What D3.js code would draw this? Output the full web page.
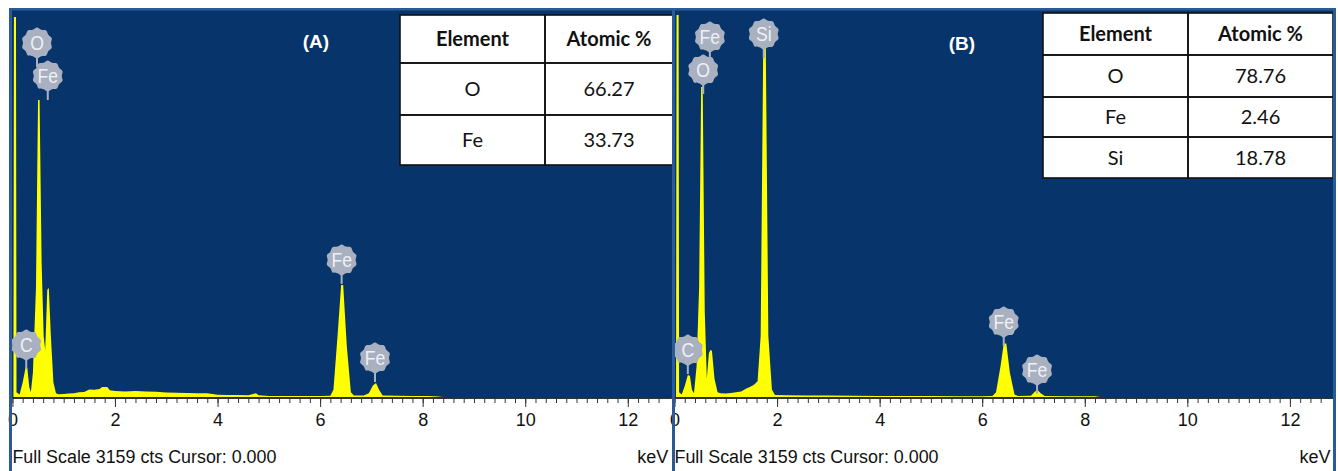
<!DOCTYPE html>
<html>
<head>
<meta charset="UTF-8">
<title>EDS spectra</title>
<script src="https://cdn.jsdelivr.net/npm/d3@7"></script>
<style>
    body { margin: 0; background: #fff; }
</style>
</head>
<body>
<div id="chart"></div>
<script>
    // keV ticks and vertical full scale
    const kevTicks = [0, 2, 4, 6, 8, 10, 12];
    const kevMax = 12.85;
    const fullScale = 3159;

    // spectrum A: [keV, counts]
    const spectrumA = [
        [0, 0], [0.02, 0], [0.03, 3118], [0.07, 3118], [0.08, 40], [0.14, 20], [0.2, 120], [0.26, 246], [0.29, 240],
        [0.33, 80], [0.36, 40], [0.4, 200], [0.46, 900], [0.5, 2437], [0.53, 2437], [0.57, 1100], [0.61, 500],
        [0.64, 385], [0.68, 880], [0.71, 894], [0.75, 500], [0.8, 120], [0.85, 30], [0.9, 22], [1.0, 25], [1.1, 28],
        [1.2, 30], [1.3, 40], [1.4, 42], [1.5, 62], [1.6, 60], [1.7, 66], [1.75, 82], [1.85, 82], [1.9, 55],
        [2.0, 50], [2.2, 46], [2.4, 50], [2.6, 45], [2.8, 44], [3.0, 36], [3.2, 34], [3.4, 32], [3.6, 30],
        [3.8, 30], [4.0, 18], [4.2, 16], [4.4, 16], [4.6, 14], [4.75, 30], [4.8, 14], [5.0, 8], [5.5, 8],
        [6.0, 8], [6.2, 10], [6.26, 60], [6.34, 500], [6.41, 919], [6.45, 919], [6.52, 420], [6.6, 40],
        [6.66, 12], [6.85, 12], [6.95, 30], [7.03, 95], [7.09, 115], [7.15, 60], [7.22, 12], [7.5, 10],
        [7.8, 8], [8.1, 8], [8.3, 4], [8.4, 0], [12.85, 0]
    ];

    // spectrum B
    const spectrumB = [
        [0, 0], [0.03, 0], [0.04, 3134], [0.08, 3134], [0.09, 40], [0.14, 20], [0.2, 90], [0.26, 180], [0.3, 175],
        [0.34, 60], [0.38, 30], [0.43, 250], [0.48, 900], [0.52, 2544], [0.55, 2544], [0.59, 700], [0.63, 150],
        [0.67, 360], [0.7, 386], [0.73, 380], [0.78, 150], [0.84, 40], [0.9, 30], [1.0, 28], [1.1, 32],
        [1.2, 38], [1.3, 45], [1.4, 70], [1.47, 82], [1.55, 100], [1.62, 130], [1.68, 500], [1.73, 2872],
        [1.78, 2872], [1.83, 500], [1.9, 60], [1.96, 16], [2.2, 14], [2.6, 12], [3.0, 12], [3.5, 10],
        [4.0, 8], [4.5, 8], [5.0, 8], [5.5, 6], [6.0, 6], [6.2, 8], [6.27, 40], [6.36, 260], [6.42, 440],
        [6.47, 440], [6.54, 200], [6.63, 20], [6.7, 8], [6.95, 10], [7.03, 45], [7.08, 57], [7.14, 30],
        [7.22, 8], [7.6, 6], [8.2, 6], [8.3, 0], [12.85, 0]
    ];

    // element badges: label, keV, height in counts
    const badgesA = [
        { el: "O", kev: 0.48, cts: 2905 },
        { el: "Fe", kev: 0.69, cts: 2634 },
        { el: "C", kev: 0.27, cts: 427 },
        { el: "Fe", kev: 6.42, cts: 1125 },
        { el: "Fe", kev: 7.07, cts: 320 }
    ];
    const badgesB = [
        { el: "Fe", kev: 0.69, cts: 2954 },
        { el: "O", kev: 0.56, cts: 2683 },
        { el: "Si", kev: 1.74, cts: 2978 },
        { el: "C", kev: 0.26, cts: 385 },
        { el: "Fe", kev: 6.42, cts: 615 },
        { el: "Fe", kev: 7.07, cts: 222 }
    ];

    // composition tables
    const tableHeader = ["Element", "Atomic %"];
    const elementsA = ["O", "Fe"];
    const atomicA = ["66.27", "33.73"];
    const elementsB = ["O", "Fe", "Si"];
    const atomicB = ["78.76", "2.46", "18.78"];

    const W = 1338, H = 471;
    const svg = d3.select("#chart").append("svg")
        .attr("width", W).attr("height", H)
        .style("font-family", "'Liberation Sans', Arial, sans-serif");

    const BG = "#07346b", EDGE = "#2a5b97", YEL = "#ffff00";

    // gear-ish badge outline
    const gear = d3.lineRadial().curve(d3.curveCardinalClosed)(
        d3.range(20).map(i => [i * Math.PI * 2 / 20, i % 2 ? 14 : 15.5])
    );

    function drawPanel(opt) {
        const g = svg.append("g");
        const x = d3.scaleLinear().domain([0, kevMax]).range([opt.left, opt.left + 659]);
        const y = d3.scaleLinear().domain([0, fullScale]).range([397, 12]);

        g.append("rect")
            .attr("x", opt.left - 1).attr("y", 10)
            .attr("width", 661).attr("height", 388)
            .attr("fill", BG);

        g.append("path")
            .datum(opt.spectrum)
            .attr("fill", YEL)
            .attr("d", d3.area()
                .x(d => x(d[0]))
                .y0(y(0))
                .y1(d => y(d[1])));

        // minor ticks every 0.2 keV
        g.append("g")
            .attr("transform", "translate(0,398)")
            .call(d3.axisBottom(x)
                .tickValues(d3.range(0, 64).map(i => i * 0.2))
                .tickSize(5)
                .tickFormat(""))
            .call(a => a.select(".domain").remove())
            .call(a => a.selectAll("line").attr("stroke", "#333"));

        // major ticks + labels
        g.append("g")
            .attr("transform", "translate(0,398)")
            .call(d3.axisBottom(x)
                .tickValues(kevTicks)
                .tickSize(9)
                .tickPadding(6)
                .tickSizeOuter(0))
            .call(a => a.select(".domain").attr("stroke", "#333"))
            .call(a => a.selectAll("line").attr("stroke", "#333"))
            .call(a => a.selectAll("text")
                .attr("font-family", "'Liberation Sans', Arial, sans-serif")
                .attr("font-size", 18)
                .attr("fill", "#111"));

        // badges
        const b = g.selectAll(".badge").data(opt.badges).join("g")
            .attr("class", "badge")
            .attr("transform", d => `translate(${x(d.kev)},${y(d.cts)})`);
        b.append("line")
            .attr("x1", 0).attr("y1", 0).attr("x2", 0).attr("y2", 24)
            .attr("stroke", "#aab1c0").attr("stroke-width", 2);
        b.append("path")
            .attr("d", gear)
            .attr("fill", "#a9b0bf");
        b.append("text")
            .attr("text-anchor", "middle")
            .attr("dy", "0.36em")
            .attr("font-size", 20)
            .attr("fill", "#eef1f6")
            .attr("transform", "scale(0.88,1)")
            .text(d => d.el);

        // panel title
        g.append("text")
            .attr("x", opt.titleX).attr("y", opt.titleY)
            .attr("text-anchor", "middle")
            .attr("font-size", 19).attr("font-weight", "bold")
            .attr("fill", "#fff")
            .text(opt.title);

        // footer text
        g.append("text")
            .attr("x", opt.left).attr("y", 463)
            .attr("font-size", 18)
            .attr("textLength", 264).attr("lengthAdjust", "spacingAndGlyphs")
            .attr("fill", "#111")
            .text("Full Scale " + fullScale + " cts Cursor: 0.000");
        g.append("text")
            .attr("x", opt.left + 656).attr("y", 463)
            .attr("text-anchor", "end")
            .attr("font-size", 18)
            .attr("fill", "#111")
            .text("keV");

        // composition table
        const t = opt.table;
        const rows = [tableHeader].concat(opt.elements.map((e, i) => [e, opt.atomic[i]]));
        const tg = g.append("g").style("font-family", "Lato, 'Open Sans', sans-serif");
        tg.append("rect")
            .attr("x", t.x).attr("y", t.y)
            .attr("width", d3.sum(t.cols)).attr("height", d3.sum(t.rows))
            .attr("fill", "#fff");
        let yy = t.y;
        rows.forEach((r, ri) => {
            let xx = t.x;
            r.forEach((cell, ci) => {
                tg.append("rect")
                    .attr("x", xx).attr("y", yy)
                    .attr("width", t.cols[ci]).attr("height", t.rows[ri])
                    .attr("fill", "none").attr("stroke", "#111").attr("stroke-width", 1.6);
                tg.append("text")
                    .attr("x", xx + t.cols[ci] / 2).attr("y", yy + t.rows[ri] / 2)
                    .attr("dy", "0.36em")
                    .attr("text-anchor", "middle")
                    .attr("font-size", 20)
                    .attr("font-weight", ri === 0 ? "bold" : "normal")
                    .attr("fill", "#111")
                    .text(cell);
                xx += t.cols[ci];
            });
            yy += t.rows[ri];
        });
    }

    drawPanel({
        left: 12.4, spectrum: spectrumA, badges: badgesA,
        title: "(A)", titleX: 316, titleY: 48,
        elements: elementsA, atomic: atomicA,
        table: { x: 400, y: 15, cols: [145, 128], rows: [48, 52, 50] }
    });
    drawPanel({
        left: 674.5, spectrum: spectrumB, badges: badgesB,
        title: "(B)", titleX: 962, titleY: 50,
        elements: elementsB, atomic: atomicB,
        table: { x: 1043, y: 13, cols: [145, 145], rows: [42, 42, 40, 41] }
    });

    // frame lines
    svg.append("rect").attr("x", 9).attr("y", 8).attr("width", 1327).attr("height", 2.5).attr("fill", EDGE);
    [9, 672, 1333].forEach(px => {
        svg.append("rect").attr("x", px).attr("y", 8).attr("width", 3).attr("height", H - 8).attr("fill", EDGE);
    });
</script>
</body>
</html>
